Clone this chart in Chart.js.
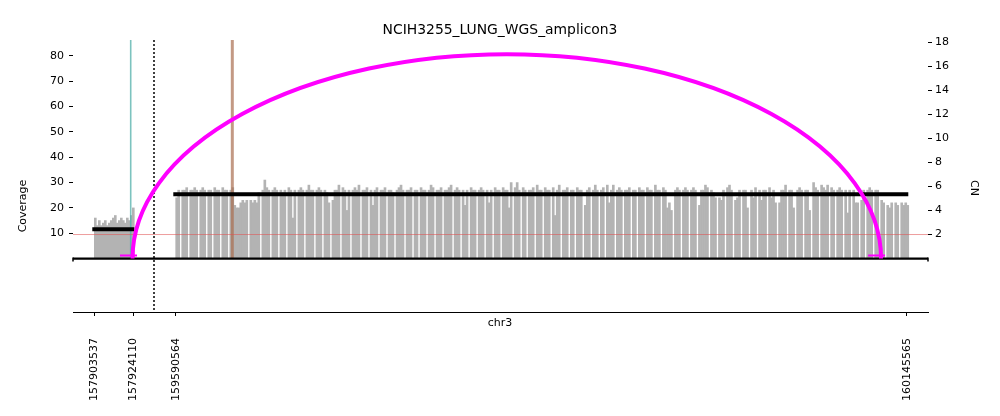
<!DOCTYPE html>
<html>
<head>
<meta charset="utf-8">
<script src="https://cdn.jsdelivr.net/npm/chart.js@4.4.1/dist/chart.umd.min.js"></script>
<style>
    html, body { margin: 0; padding: 0; background: #fff; }
    #wrap { width: 1000px; height: 416px; }
</style>
</head>
<body>
<div id="wrap"><canvas id="ampliconChart"></canvas></div>
<script>
const sampleName = 'NCIH3255_LUNG_WGS_amplicon3';
const chromName = 'chr3';

// two genome intervals, drawn side by side
const intervalStarts = [157892300, 159574094];
const intervalEnds = [157935030, 160161504];

const xTickPositions = [157903537, 157924110, 159590564, 160145565];
const xTickLabels = ['157903537', '157924110', '159590564', '160145565'];
const coverageTicks = [10, 20, 30, 40, 50, 60, 70, 80];
const cnTicks = [2, 4, 6, 8, 10, 12, 14, 16, 18];

// read depth bins (first bin start, bin size per interval)
const covBinStarts = [157903537, 159590564];
const covBinSizes = [1055, 1520];
const coverageA = [16, 13, 15, 13, 14, 15, 13, 14, 15, 16, 17, 14, 15, 16, 15, 14, 16, 15, 17, 20];
const coverageB = [
    24, 27, 0, 27, 27, 28, 0, 27, 27, 28,
    27, 0, 27, 28, 27, 0, 27, 27, 0, 28,
    27, 27, 0, 28, 27, 27, 0, 27, 28, 21,
    20, 20, 22, 23, 22, 23, 0, 23, 22, 23,
    22, 26, 0, 27, 31, 28, 27, 0, 27, 28,
    27, 0, 27, 26, 27, 0, 28, 27, 16, 27,
    0, 27, 28, 27, 0, 27, 29, 27, 27, 0,
    27, 28, 27, 0, 27, 26, 22, 0, 23, 27,
    27, 29, 0, 28, 27, 19, 27, 0, 27, 28,
    27, 29, 0, 27, 27, 28, 0, 27, 21, 27,
    28, 0, 27, 27, 28, 0, 27, 27, 26, 0,
    27, 28, 29, 27, 0, 27, 27, 28, 0, 27,
    27, 0, 28, 27, 27, 0, 27, 29, 28, 0,
    27, 27, 28, 0, 27, 27, 28, 29, 0, 27,
    28, 27, 0, 27, 21, 27, 0, 28, 27, 27,
    0, 27, 28, 27, 0, 27, 22, 27, 0, 28,
    27, 27, 0, 28, 27, 27, 20, 30, 0, 28,
    30, 27, 0, 28, 27, 0, 27, 27, 28, 0,
    29, 27, 27, 0, 28, 27, 27, 0, 28, 17,
    27, 29, 0, 27, 27, 28, 0, 27, 27, 0,
    28, 27, 27, 0, 21, 27, 28, 0, 27, 29,
    27, 0, 27, 28, 0, 29, 22, 27, 29, 0,
    27, 28, 27, 0, 27, 27, 28, 0, 27, 27,
    0, 28, 27, 27, 0, 28, 27, 27, 0, 29,
    27, 27, 0, 28, 27, 20, 22, 19, 0, 27,
    28, 27, 0, 27, 28, 27, 0, 27, 28, 27,
    0, 21, 27, 27, 29, 28, 0, 27, 26, 24,
    0, 24, 23, 27, 0, 28, 29, 27, 0, 23,
    24, 27, 0, 27, 27, 20, 0, 27, 24, 28,
    0, 27, 23, 27, 27, 0, 28, 24, 27, 22,
    0, 22, 27, 27, 29, 0, 27, 27, 20, 0,
    27, 28, 27, 0, 27, 27, 19, 0, 30, 28,
    27, 0, 29, 28, 27, 29, 0, 28, 27, 0,
    27, 28, 27, 0, 27, 18, 27, 0, 27, 22,
    22, 0, 23, 27, 0, 27, 28, 27, 0, 27,
    27, 0, 23, 22, 0, 21, 20, 22, 0, 22,
    21, 0, 22, 21, 22, 21
];

// copy number segments
const segmentStarts = [157902480, 159588740];
const segmentEnds = [157924640, 160146550];
const segmentCN = [2.43, 5.34];
const diploidCN = 2;

// breakpoint lines and the discordant edge
const tealBreakpoint = 157922740;
const brownBreakpoint = 159633520;
const edgeEnds = [157923700, 160125890];
const edgePeakCN = 17;
const edgeMarkerStarts = [157917094, 160116020];
const edgeMarkerEnds = [157926060, 160128920];

// layout
const intervalWidths = [81, 774];
const covMin = -21.1, covMax = 86.3;
const cnMin = -4.446, cnMax = 18.183;
const FONT = "'DejaVu Sans', sans-serif";

function toX(pos) {
    let offset = 0;
    for (let i = 0; i < intervalStarts.length; i++) {
        if (pos <= intervalEnds[i] || i === intervalStarts.length - 1) {
            return offset + (pos - intervalStarts[i]) / (intervalEnds[i] - intervalStarts[i]) * intervalWidths[i];
        }
        offset += intervalWidths[i];
    }
}

const coverageBars = [];
[coverageA, coverageB].forEach(function (values, k) {
    values.forEach(function (v, i) {
        coverageBars.push({ x: toX(covBinStarts[k] + covBinSizes[k] * (i + 0.5)), y: v });
    });
});

const cnPoints = [];
segmentCN.forEach(function (v, i) {
    if (i > 0) cnPoints.push({ x: toX(segmentStarts[i]) - 1, y: null });
    cnPoints.push({ x: toX(segmentStarts[i]), y: v });
    cnPoints.push({ x: toX(segmentEnds[i]), y: v });
});

const markerPoints = [];
edgeMarkerStarts.forEach(function (s, i) {
    if (i > 0) markerPoints.push({ x: toX(s) - 1, y: null });
    markerPoints.push({ x: toX(s), y: 0.25 });
    markerPoints.push({ x: toX(edgeMarkerEnds[i]), y: 0.25 });
});

const totalWidth = intervalWidths.reduce(function (a, b) { return a + b; }, 0);

const decorPlugin = {
    id: 'ampliconDecor',
    afterDatasetsDraw(chart) {
        const { ctx, chartArea, scales } = chart;
        const baseY = scales.cov.getPixelForValue(0);

        // baseline of the coverage panel
        ctx.save();
        ctx.strokeStyle = '#000';
        ctx.lineWidth = 2.2;
        ctx.beginPath();
        ctx.moveTo(chartArea.left, baseY);
        ctx.lineTo(chartArea.right, baseY);
        ctx.stroke();
        ctx.lineWidth = 1.5;
        ctx.beginPath();
        ctx.moveTo(chartArea.left, baseY - 1);
        ctx.lineTo(chartArea.left, baseY + 3);
        ctx.moveTo(chartArea.right, baseY - 1);
        ctx.lineTo(chartArea.right, baseY + 3);
        ctx.stroke();

        // interval separator
        const sepX = scales.x.getPixelForValue(intervalWidths[0]);
        ctx.setLineDash([2, 2]);
        ctx.lineWidth = 1.5;
        ctx.beginPath();
        ctx.moveTo(sepX, chartArea.top);
        ctx.lineTo(sepX, chartArea.bottom);
        ctx.stroke();
        ctx.setLineDash([]);

        // discordant edge arc
        const x1 = scales.x.getPixelForValue(toX(edgeEnds[0]));
        const x2 = scales.x.getPixelForValue(toX(edgeEnds[1]));
        const peakY = scales.cn.getPixelForValue(edgePeakCN);
        ctx.strokeStyle = '#ff00ff';
        ctx.lineWidth = 4;
        ctx.beginPath();
        ctx.ellipse((x1 + x2) / 2, baseY, (x2 - x1) / 2, baseY - peakY, 0, Math.PI, 2 * Math.PI);
        ctx.stroke();
        ctx.restore();
    },
    afterDraw(chart) {
        const { ctx } = chart;
        ctx.save();
        ctx.fillStyle = '#000';
        ctx.textAlign = 'center';
        ctx.textBaseline = 'middle';

        ctx.font = '13.9px ' + FONT;
        ctx.fillText(sampleName, 500, 30);

        ctx.font = '11px ' + FONT;
        ctx.fillText(chromName, 500, 323);

        ctx.save();
        ctx.translate(23, 206);
        ctx.rotate(-Math.PI / 2);
        ctx.fillText('Coverage', 0, 0);
        ctx.restore();

        ctx.save();
        ctx.translate(974, 188);
        ctx.rotate(Math.PI / 2);
        ctx.fillText('CN', 0, 0);
        ctx.restore();
        ctx.restore();
    }
};

Chart.defaults.font.family = FONT;
Chart.defaults.font.size = 11;
Chart.defaults.color = '#000';

new Chart(document.getElementById('ampliconChart').getContext('2d'), {
    type: 'bar',
    data: {
        datasets: [
            {
                type: 'bar',
                data: coverageBars,
                yAxisID: 'cov',
                backgroundColor: '#b3b3b3',
                borderWidth: 0,
                barPercentage: 1,
                categoryPercentage: 1,
                grouped: false,
                order: 6
            },
            {
                type: 'line',
                data: [{ x: toX(tealBreakpoint), y: 0 }, { x: toX(tealBreakpoint), y: covMax }],
                yAxisID: 'cov',
                borderColor: 'rgba(80,175,170,0.75)',
                borderWidth: 1.6,
                pointRadius: 0,
                order: 5
            },
            {
                type: 'line',
                data: [{ x: toX(brownBreakpoint), y: 0 }, { x: toX(brownBreakpoint), y: covMax }],
                yAxisID: 'cov',
                borderColor: 'rgba(170,110,80,0.7)',
                borderWidth: 3,
                pointRadius: 0,
                order: 5
            },
            {
                type: 'line',
                data: [{ x: 0, y: diploidCN }, { x: totalWidth, y: diploidCN }],
                yAxisID: 'cn',
                borderColor: 'rgba(225,80,80,0.7)',
                borderWidth: 0.8,
                pointRadius: 0,
                order: 4
            },
            {
                type: 'line',
                data: cnPoints,
                yAxisID: 'cn',
                borderColor: '#000',
                borderWidth: 4,
                pointRadius: 0,
                spanGaps: false,
                order: 3
            },
            {
                type: 'line',
                data: markerPoints,
                yAxisID: 'cn',
                borderColor: '#ff00ff',
                borderWidth: 2,
                pointRadius: 0,
                spanGaps: false,
                order: 2
            }
        ]
    },
    options: {
        responsive: true,
        maintainAspectRatio: false,
        animation: false,
        events: [],
        layout: { padding: { top: 40, left: 0, right: 0, bottom: 0 } },
        plugins: {
            legend: { display: false },
            title: { display: false },
            tooltip: { enabled: false }
        },
        scales: {
            x: {
                type: 'linear',
                min: 0,
                max: totalWidth,
                offset: false,
                grid: { drawOnChartArea: false, offset: false, color: '#000', tickLength: 4 },
                border: { display: true, color: '#000', width: 1 },
                afterBuildTicks: function (scale) {
                    scale.ticks = xTickPositions.map(function (p) { return { value: toX(p) }; });
                },
                afterFit: function (scale) { scale.height = 104; },
                ticks: {
                    autoSkip: false,
                    minRotation: 90,
                    maxRotation: 90,
                    padding: 22,
                    callback: function (value, index) { return xTickLabels[index]; }
                }
            },
            cov: {
                type: 'linear',
                position: 'left',
                min: covMin,
                max: covMax,
                grid: { drawOnChartArea: false, color: '#000', tickLength: 4 },
                border: { display: false },
                afterBuildTicks: function (scale) {
                    scale.ticks = coverageTicks.map(function (v) { return { value: v }; });
                },
                afterFit: function (scale) { scale.width = 73; },
                ticks: { padding: 5 }
            },
            cn: {
                type: 'linear',
                position: 'right',
                min: cnMin,
                max: cnMax,
                grid: { drawOnChartArea: false, color: '#000', tickLength: 4 },
                border: { display: false },
                afterBuildTicks: function (scale) {
                    scale.ticks = cnTicks.map(function (v) { return { value: v }; });
                },
                afterFit: function (scale) { scale.width = 72; },
                ticks: { padding: 3 }
            }
        }
    },
    plugins: [decorPlugin]
});
</script>
</body>
</html>
